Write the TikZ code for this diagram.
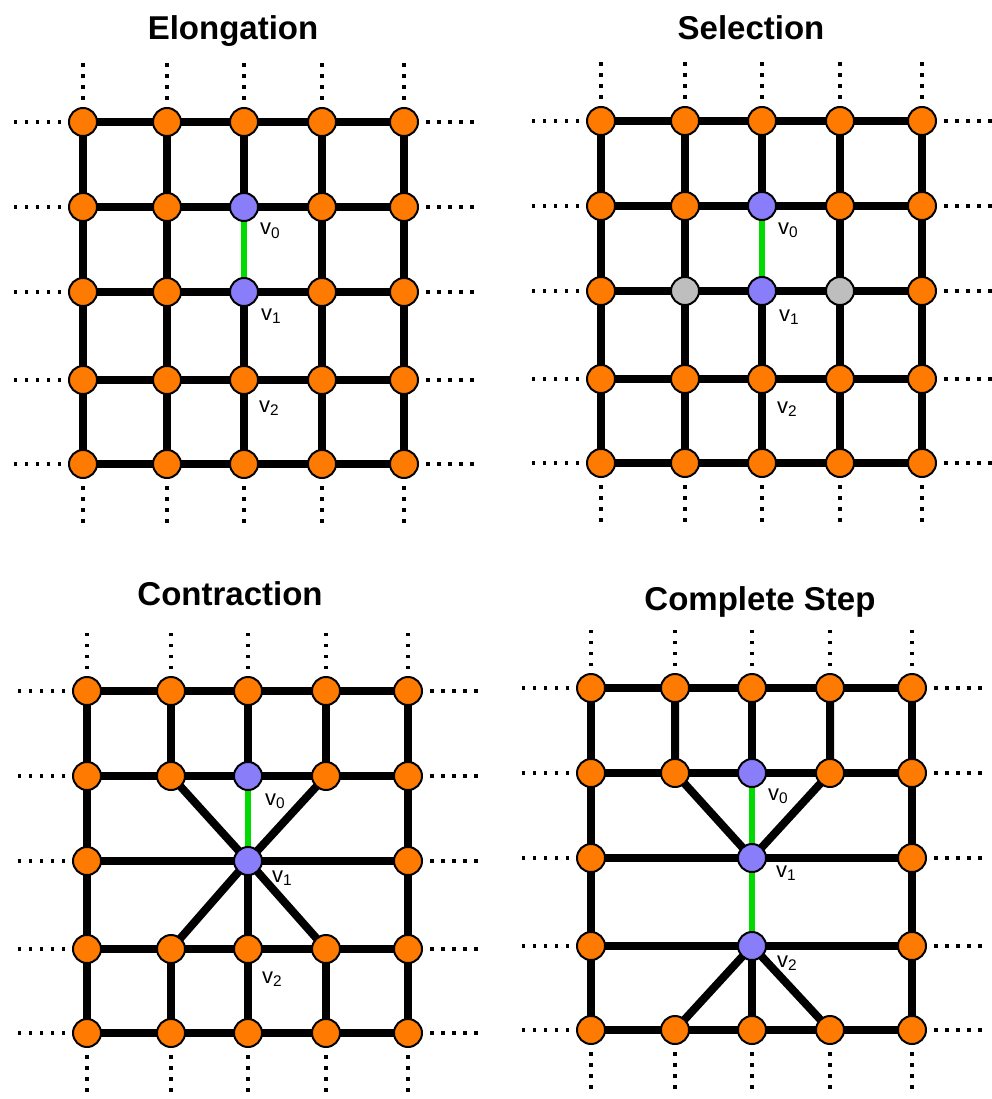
\documentclass[tikz,border=0pt]{standalone}
\usepackage{fontspec}
\setmainfont{Liberation Sans}
\usetikzlibrary{backgrounds}
\definecolor{node_orange}{RGB}{255,122,0}
\definecolor{node_blue}{RGB}{138,125,250}
\definecolor{node_gray}{RGB}{190,190,190}
\definecolor{edge_green}{RGB}{0,218,0}
\tikzstyle{orange_node} = [
    circle, 
    draw=black, 
    fill=node_orange, 
    line width=2pt, 
    inner sep=0pt, 
    minimum size=28pt
]
\tikzstyle{blue_node} = [orange_node, fill=node_blue]
\tikzstyle{gray_node} = [orange_node, fill=node_gray]
\tikzstyle{grid_edge} = [line width=8pt, black]
\tikzstyle{green_edge} = [line width=6pt, edge_green]
\tikzstyle{dots} = [line width=3.5pt, dash pattern=on 3.5pt off 7.5pt]
\tikzstyle{title} = [anchor=base, font=\fontsize{33}{40}\selectfont\bfseries]
\tikzstyle{vlabel} = [anchor=base west, inner sep=0pt, font=\fontsize{22}{26}\selectfont]
% column / row offsets inside one panel
\def\cols{0/0,1/84,2/161,3/239,4/321}
\def\rows{0/0,1/85,2/170,3/258,4/342}

\begin{document}
\begin{tikzpicture}[
    x=1pt, y=-1pt,
    E-2-1/.style=blue_node, E-2-2/.style=blue_node,
    S-2-1/.style=blue_node, S-2-2/.style=blue_node,
    S-1-2/.style=gray_node, S-3-2/.style=gray_node,
    C-2-1/.style=blue_node, C-2-2/.style=blue_node,
    F-2-1/.style=blue_node, F-2-2/.style=blue_node, F-2-3/.style=blue_node
]
\useasboundingbox (0,0) rectangle (991,1099);

% titles
\node [title] (E-title) at (233,40) {Elongation};
\node [title] (S-title) at (751,40) {Selection};
\node [title] (C-title) at (230,605) {Contraction};
\node [title] (F-title) at (760,610) {Complete Step};

% nodes of the four panels (m: 0 full lattice, 1 and 2 with removed nodes)
\foreach \p/\ox/\oy/\m in {E/83/122/0, S/601/121/0, C/87/691/1, F/591/688/2} {
    \foreach \c/\dx in \cols {
        \foreach \r/\dy in \rows {
            \pgfmathtruncatemacro\hole{
                (\c==1 || \c==3) && ((\r==2 && \m>0) || (\r==3 && \m==2))
            }
            \ifnum\hole=0
                \node [orange_node, \p-\c-\r/.try] (\p-\c-\r) at (\ox+\dx, \oy+\dy) {};
            \fi
        }
    }
}

% labels
\node [vlabel] (E-v0) at ([shift={(16,28)}]E-2-1.center) {v\textsubscript{0}};
\node [vlabel] (E-v1) at ([shift={(17,28)}]E-2-2.center) {v\textsubscript{1}};
\node [vlabel] (E-v2) at ([shift={(15,32)}]E-2-3.center) {v\textsubscript{2}};
\node [vlabel] (S-v0) at ([shift={(16,28)}]S-2-1.center) {v\textsubscript{0}};
\node [vlabel] (S-v1) at ([shift={(17,30)}]S-2-2.center) {v\textsubscript{1}};
\node [vlabel] (S-v2) at ([shift={(15,34)}]S-2-3.center) {v\textsubscript{2}};
\node [vlabel] (C-v0) at ([shift={(17,29)}]C-2-1.center) {v\textsubscript{0}};
\node [vlabel] (C-v1) at ([shift={(24,21)}]C-2-2.center) {v\textsubscript{1}};
\node [vlabel] (C-v2) at ([shift={(14,34)}]C-2-3.center) {v\textsubscript{2}};
\node [vlabel] (F-v0) at ([shift={(16,27)}]F-2-1.center) {v\textsubscript{0}};
\node [vlabel] (F-v1) at ([shift={(24,19)}]F-2-2.center) {v\textsubscript{1}};
\node [vlabel] (F-v2) at ([shift={(25,21)}]F-2-3.center) {v\textsubscript{2}};

\begin{scope}[on background layer]
    % dotted continuation of the lattice
    \foreach \p in {E,S,C,F} {
        \foreach \i in {0,...,4} {
            \draw [dots] (\p-0-\i.center) -- ++(-70,0);
            \draw [dots] (\p-4-\i.center) -- ++(72,0);
            \draw [dots] (\p-\i-0.center) -- ++(0,-62);
            \draw [dots] (\p-\i-4.center) -- ++(0,66);
        }
    }
    % Elongation and Selection: full lattice
    \foreach \p in {E,S} {
        \foreach \i in {0,...,4} {
            \draw [grid_edge] (\p-0-\i.center) -- (\p-1-\i.center) -- (\p-2-\i.center) -- (\p-3-\i.center) -- (\p-4-\i.center);
        }
        \foreach \c in {0,1,3,4} {
            \draw [grid_edge] (\p-\c-0.center) -- (\p-\c-1.center) -- (\p-\c-2.center) -- (\p-\c-3.center) -- (\p-\c-4.center);
        }
        \draw [grid_edge] (\p-2-0.center) -- (\p-2-1.center);
        \draw [grid_edge] (\p-2-2.center) -- (\p-2-3.center) -- (\p-2-4.center);
        \draw [green_edge] (\p-2-1.center) -- (\p-2-2.center);
    }
    % Contraction
    \foreach \r in {0,1,3,4} {
        \draw [grid_edge] (C-0-\r.center) -- (C-1-\r.center) -- (C-2-\r.center) -- (C-3-\r.center) -- (C-4-\r.center);
    }
    \draw [grid_edge] (C-0-2.center) -- (C-2-2.center) -- (C-4-2.center);
    \foreach \c in {0,4} {
        \draw [grid_edge] (C-\c-0.center) -- (C-\c-1.center) -- (C-\c-2.center) -- (C-\c-3.center) -- (C-\c-4.center);
    }
    \foreach \c in {1,3} {
        \draw [grid_edge] (C-\c-0.center) -- (C-\c-1.center);
        \draw [grid_edge] (C-\c-3.center) -- (C-\c-4.center);
        \draw [grid_edge] (C-\c-1.center) -- (C-2-2.center) -- (C-\c-3.center);
    }
    \draw [grid_edge] (C-2-0.center) -- (C-2-1.center);
    \draw [grid_edge] (C-2-2.center) -- (C-2-3.center) -- (C-2-4.center);
    \draw [green_edge] (C-2-1.center) -- (C-2-2.center);
    % Complete Step
    \foreach \r in {0,1,4} {
        \draw [grid_edge] (F-0-\r.center) -- (F-1-\r.center) -- (F-2-\r.center) -- (F-3-\r.center) -- (F-4-\r.center);
    }
    \foreach \r in {2,3} {
        \draw [grid_edge] (F-0-\r.center) -- (F-2-\r.center) -- (F-4-\r.center);
    }
    \foreach \c in {0,4} {
        \draw [grid_edge] (F-\c-0.center) -- (F-\c-1.center) -- (F-\c-2.center) -- (F-\c-3.center) -- (F-\c-4.center);
    }
    \foreach \c in {1,3} {
        \draw [grid_edge] (F-\c-0.center) -- (F-\c-1.center) -- (F-2-2.center);
        \draw [grid_edge] (F-2-3.center) -- (F-\c-4.center);
    }
    \draw [grid_edge] (F-2-0.center) -- (F-2-1.center);
    \draw [grid_edge] (F-2-3.center) -- (F-2-4.center);
    \draw [green_edge] (F-2-1.center) -- (F-2-2.center) -- (F-2-3.center);
\end{scope}
\end{tikzpicture}
\end{document}
